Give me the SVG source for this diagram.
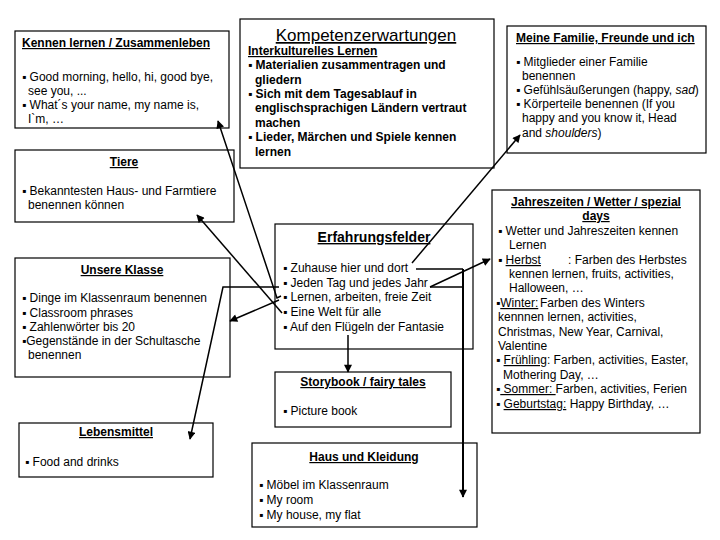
<svg xmlns="http://www.w3.org/2000/svg" width="720" height="540" viewBox="0 0 720 540">
<style>
text{font-family:"Liberation Sans",Arial,sans-serif;font-size:12px;fill:#000}
.b{font-weight:bold}
.u{text-decoration:underline}
.i{font-style:italic}
.c{text-anchor:middle}
.box{fill:#fff;stroke:#000;stroke-width:1.2}
.ln{fill:none;stroke:#000;stroke-width:1.5}
.lt{fill:none;stroke:#000;stroke-width:2}
</style>
<defs>
<marker id="ah" viewBox="0 0 10 10" refX="9" refY="5" markerWidth="9" markerHeight="8" markerUnits="userSpaceOnUse" orient="auto">
<path d="M0,0 L10,5 L0,10 z" fill="#000"/>
</marker>
</defs>
<rect width="720" height="540" fill="#fff"/>

<g id="kennen">
<rect class="box" x="15" y="31" width="214" height="97"/>
<text x="22" y="47" class="b u">Kennen lernen / Zusammenleben</text>
<text x="22" y="81">▪ Good morning, hello, hi, good bye,</text>
<text x="28" y="95">see you, ...</text>
<text x="22" y="109">▪ What´s your name, my name is,</text>
<text x="28" y="123">I`m, …</text>
</g>

<g id="tiere">
<rect class="box" x="15" y="150" width="219" height="72"/>
<text x="124" y="166" class="b u c">Tiere</text>
<text x="22" y="195">▪ Bekanntesten Haus- und Farmtiere</text>
<text x="28" y="209">benennen können</text>
</g>

<g id="kompetenz">
<rect class="box" x="240" y="19" width="254" height="149"/>
<text x="366" y="41" class="u c" style="font-size:17px">Kompetenzerwartungen</text>
<text x="248" y="55" class="b u">Interkulturelles Lernen</text>
<text x="248" y="69" class="b">▪ Materialien zusammentragen und</text>
<text x="255" y="84" class="b">gliedern</text>
<text x="248" y="98" class="b">▪ Sich mit dem Tagesablauf in</text>
<text x="255" y="112" class="b">englischsprachigen Ländern vertraut</text>
<text x="255" y="127" class="b">machen</text>
<text x="248" y="141" class="b">▪ Lieder, Märchen und Spiele kennen</text>
<text x="255" y="156" class="b">lernen</text>
</g>

<g id="familie">
<rect class="box" x="507" y="26" width="199" height="127"/>
<text x="516" y="42" class="b u">Meine Familie, Freunde und ich</text>
<text x="516" y="66">▪ Mitglieder einer Familie</text>
<text x="522" y="80">benennen</text>
<text x="516" y="94">▪ Gefühlsäußerungen (happy, <tspan class="i">sad</tspan>)</text>
<text x="516" y="108">▪ Körperteile benennen (If you</text>
<text x="522" y="122">happy and you know it, Head</text>
<text x="522" y="137">and <tspan class="i">shoulders</tspan>)</text>
</g>

<g id="jahreszeiten">
<rect class="box" x="492" y="190" width="208" height="243"/>
<text x="596" y="206" class="b u c">Jahreszeiten / Wetter / spezial</text>
<text x="596" y="220" class="b u c">days</text>
<text x="498" y="235">▪ Wetter und Jahreszeiten kennen</text>
<text x="509" y="249">Lernen</text>
<text x="498" y="264">▪ <tspan class="u">Herbst</tspan><tspan x="568">: Farben des Herbstes</tspan></text>
<text x="509" y="278">kennen lernen, fruits, activities,</text>
<text x="509" y="292">Halloween, …</text>
<text x="496" y="307">▪<tspan class="u">Winter:</tspan><tspan x="540">Farben des Winters</tspan></text>
<text x="498" y="321">kennnen lernen, activities,</text>
<text x="498" y="336">Christmas, New Year, Carnival,</text>
<text x="498" y="350">Valentine</text>
<text x="496" y="364">▪ <tspan class="u">Frühling</tspan>: Farben, activities, Easter,</text>
<text x="503" y="379">Mothering Day, …</text>
<text x="496" y="393">▪<tspan class="u"> Sommer: </tspan>Farben, activities, Ferien</text>
<text x="496" y="408">▪ <tspan class="u">Geburtstag:</tspan> Happy Birthday, …</text>
</g>

<g id="unsere">
<rect class="box" x="15" y="258" width="215" height="119"/>
<text x="122" y="274" class="b u c">Unsere Klasse</text>
<text x="22" y="302">▪ Dinge im Klassenraum benennen</text>
<text x="22" y="317">▪ Classroom phrases</text>
<text x="22" y="331">▪  Zahlenwörter bis 20</text>
<text x="22" y="345">▪Gegenstände in der Schultasche</text>
<text x="28" y="359">benennen</text>
</g>

<g id="erfahrungsfelder">
<rect class="box" x="275" y="224" width="198" height="125"/>
<text x="374" y="242" class="b u c" style="font-size:14px">Erfahrungsfelder</text>
<text x="283" y="272">▪ Zuhause hier und dort</text>
<text x="283" y="287">▪ Jeden Tag und jedes Jahr</text>
<text x="283" y="301">▪ Lernen, arbeiten, freie Zeit</text>
<text x="283" y="316">▪ Eine Welt für alle</text>
<text x="283" y="331">▪ Auf den Flügeln der Fantasie</text>
</g>

<g id="storybook">
<rect class="box" x="275" y="372" width="176" height="55"/>
<text x="363" y="386" class="b u c">Storybook / fairy tales</text>
<text x="283" y="415">▪ Picture book</text>
</g>

<g id="lebensmittel">
<rect class="box" x="19" y="423" width="194" height="54"/>
<text x="116" y="436" class="b u c">Lebensmittel</text>
<text x="25" y="466">▪ Food and drinks</text>
</g>

<g id="haus">
<rect class="box" x="252" y="443" width="225" height="84"/>
<text x="364" y="461" class="b u c">Haus und Kleidung</text>
<text x="259" y="489">▪ Möbel im Klassenraum</text>
<text x="259" y="504">▪ My room</text>
<text x="259" y="519">▪ My house, my flat</text>
</g>

<g id="connectors">
<polyline class="ln" points="281,296 277,298 218,121" marker-end="url(#ah)"/>
<line class="ln" x1="282" y1="313" x2="197" y2="215" marker-end="url(#ah)"/>
<line class="ln" x1="279" y1="300" x2="230" y2="321" marker-end="url(#ah)"/>
<polyline class="ln" points="279,287 223,287 190,439" marker-end="url(#ah)"/>
<line class="ln" x1="412" y1="263" x2="520" y2="135" marker-end="url(#ah)"/>
<line class="ln" x1="430" y1="287" x2="490" y2="259" marker-end="url(#ah)"/>
<line class="ln" x1="416" y1="269" x2="463" y2="269"/>
<line class="ln" x1="430" y1="287" x2="463" y2="287"/>
<line class="lt" x1="463" y1="269" x2="463" y2="497" marker-end="url(#ah)"/>
<line class="ln" x1="348" y1="335" x2="348" y2="372" marker-end="url(#ah)"/>
</g>
</svg>
